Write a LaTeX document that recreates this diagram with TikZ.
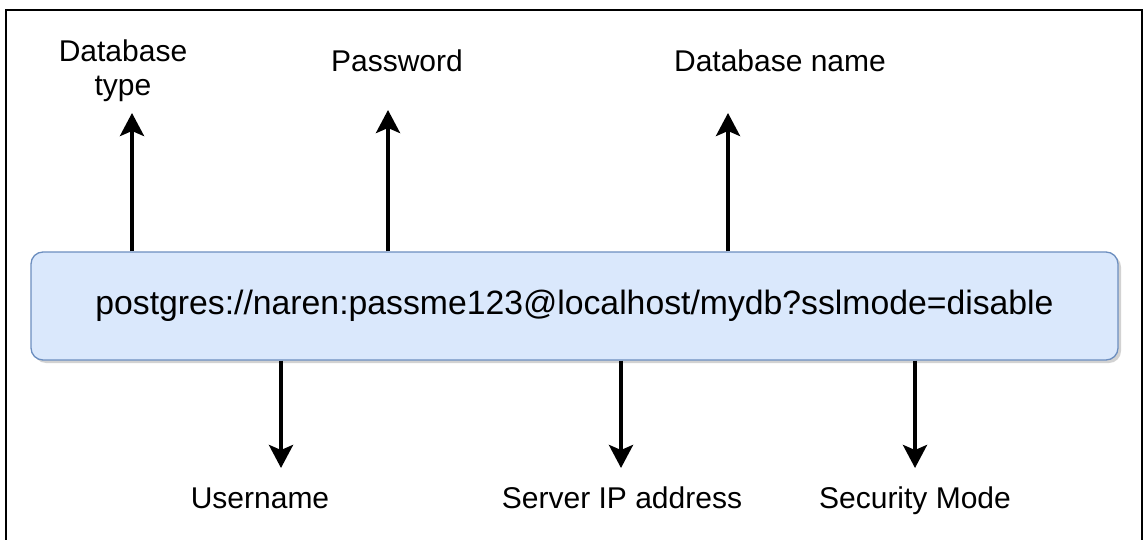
\documentclass[tikz,border=0pt]{standalone}
\usepackage{fontspec}
\setmainfont{Liberation Sans}
\usetikzlibrary{arrows.meta,shadows}
\definecolor{urlfill}{HTML}{DAE8FC}
\definecolor{urldraw}{HTML}{6C8EBF}
\tikzset{
  lbl/.style={font=\fontsize{30}{34}\selectfont, inner sep=0pt},
  link/.style={line width=4pt, -{Stealth[length=23pt,width=24pt,inset=5pt]}}
}
\begin{document}
\begin{tikzpicture}[x=1pt,y=-1pt]
\useasboundingbox (0,0) rectangle (1145,540);
\draw[line width=2pt] (6,542) -- (6,10) -- (1142,10) -- (1142,542);
\node[draw=urldraw, fill=urlfill, rounded corners=12pt, line width=1.3pt,
      minimum width=1087pt, minimum height=108pt,
      drop shadow={shadow xshift=3pt, shadow yshift=-3pt, fill=black!35},
      font=\fontsize{33.75}{40}\selectfont] (url) at (574.5,306)
      {postgres://naren:passme123@localhost/mydb?sslmode=disable};
% labels
\node[lbl, align=center] (dbtype) at (123,71) {Database\\type};
\node[lbl, anchor=base] (passwd) at (397,72) {Password};
\node[lbl, anchor=base] (dbname) at (780,72) {Database name};
\node[lbl, anchor=base] (user) at (260,508) {Username};
\node[lbl, anchor=base] (server) at (622,508) {Server IP address};
\node[lbl, anchor=base] (secmode) at (915,508) {Security Mode};
% arrows
\coordinate (aType) at (132,113);
\coordinate (aPass) at (388,110);
\coordinate (aName) at (728,113);
\coordinate (aUser) at (281,468);
\coordinate (aServer) at (621,468);
\coordinate (aMode) at (915,468);
\draw[link] (aType |- url.north) -- (aType);
\draw[link] (aPass |- url.north) -- (aPass);
\draw[link] (aName |- url.north) -- (aName);
\draw[link] (aUser |- url.south) -- (aUser);
\draw[link] (aServer |- url.south) -- (aServer);
\draw[link] (aMode |- url.south) -- (aMode);
\end{tikzpicture}
\end{document}
